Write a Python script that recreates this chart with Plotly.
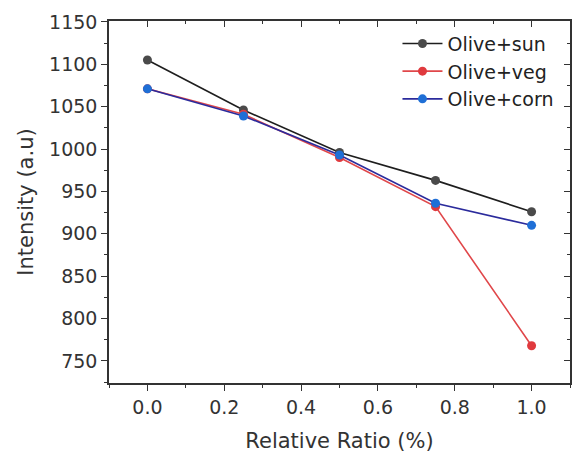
import plotly.graph_objects as go

ratio = [0.0, 0.25, 0.5, 0.75, 1.0]
olive_sun = [1105, 1046, 996, 963, 926]
olive_veg = [1071, 1041, 990, 932, 768]
olive_corn = [1071, 1039, 993, 936, 910]

series = [
    ("Olive+sun", olive_sun, "#1e1e1e", "#4a4a4a"),
    ("Olive+veg", olive_veg, "#e0474a", "#e03a3e"),
    ("Olive+corn", olive_corn, "#2b2b9c", "#1f6fd6"),
]

FONT = "DejaVu Sans, Liberation Sans, Arial, sans-serif"
fig = go.Figure()
for name, vals, lc, mc in series:
    fig.add_trace(go.Scatter(
        x=ratio, y=vals, name=name, mode="lines+markers",
        line=dict(color=lc, width=1.6),
        marker=dict(color=mc, size=9, line=dict(width=0)),
    ))

# dummy trace for mirror axes (top/right with inward ticks)
fig.add_trace(go.Scatter(x=[None], y=[None], xaxis="x2", yaxis="y2",
                         showlegend=False, hoverinfo="skip"))

xr = [-0.1, 1.1]
yr = [724, 1151]
axcommon = dict(showgrid=False, zeroline=False, showline=True,
                linecolor="#333333", linewidth=1.5, tickcolor="#333333",
                tickwidth=1.3)
fig.update_layout(
    width=572, height=455,
    margin=dict(l=109, r=2, t=21, b=72),
    plot_bgcolor="white", paper_bgcolor="white",
    font=dict(family=FONT, size=19, color="#333333"),
    xaxis=dict(range=xr, tickvals=[0, 0.2, 0.4, 0.6, 0.8, 1.0],
               ticktext=["0.0", "0.2", "0.4", "0.6", "0.8", "1.0"],
               ticks="outside", ticklen=6,
               minor=dict(tickvals=[-0.1, 0.1, 0.3, 0.5, 0.7, 0.9, 1.1], ticklen=3,
                          ticks="outside", tickcolor="#333333"),
               title=dict(text="Relative Ratio (%)", font=dict(size=21), standoff=17),
               tickfont=dict(size=19), **axcommon),
    yaxis=dict(range=yr, tickvals=[750, 800, 850, 900, 950, 1000, 1050, 1100, 1150],
               ticks="outside", ticklen=6,
               minor=dict(tickvals=[725, 775, 825, 875, 925, 975, 1025, 1075, 1125],
                          ticklen=3, ticks="outside", tickcolor="#333333"),
               title=dict(text="Intensity (a.u)", font=dict(size=21), standoff=10),
               tickfont=dict(size=19), **axcommon),
    xaxis2=dict(range=xr, overlaying="x", side="top", anchor="y",
                tickvals=[0, 0.2, 0.4, 0.6, 0.8, 1.0], showticklabels=False,
                ticks="inside", ticklen=6,
                minor=dict(tickvals=[0.1, 0.3, 0.5, 0.7, 0.9], ticklen=3,
                           ticks="inside", tickcolor="#333333"),
                **axcommon),
    yaxis2=dict(range=yr, overlaying="y", side="right", anchor="x",
                tickvals=[750, 800, 850, 900, 950, 1000, 1050, 1100, 1150],
                showticklabels=False, ticks="inside", ticklen=6,
                minor=dict(tickvals=[775, 825, 875, 925, 975, 1025, 1075, 1125],
                           ticklen=3, ticks="inside", tickcolor="#333333"),
                **axcommon),
    legend=dict(x=0.975, y=0.99, xanchor="right", yanchor="top",
                bgcolor="rgba(255,255,255,0)", font=dict(size=19, color="#222222"),
                tracegroupgap=0, itemwidth=40),
    showlegend=True,
)
fig.write_html("out.html")
